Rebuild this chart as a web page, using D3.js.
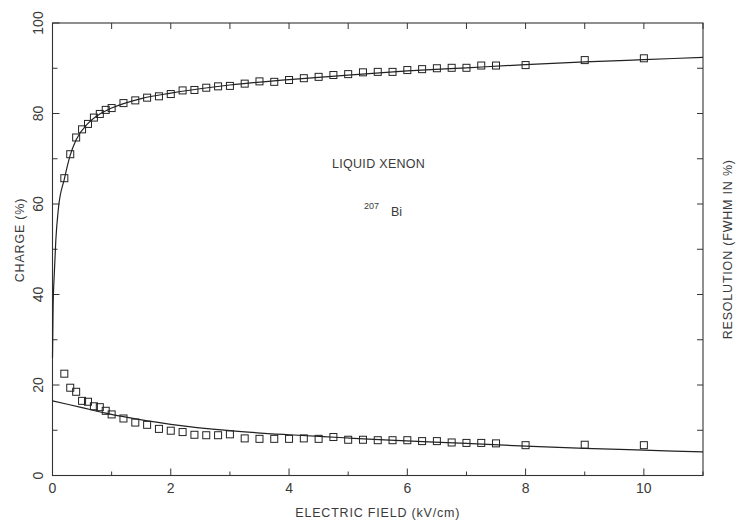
<!DOCTYPE html>
<html>
<head>
<meta charset="utf-8">
<script src="https://cdn.jsdelivr.net/npm/d3@7"></script>
<style>
  html, body { margin: 0; padding: 0; background: #fff; }
  text { font-family: 'Liberation Sans', 'DejaVu Sans', sans-serif; fill: #3a3a3a; }
</style>
</head>
<body>
<svg id="chart" width="737" height="521"></svg>
<script>
// ── data ──────────────────────────────────────────────────

// measured field values (kV/cm), shared by both series
const fieldKV = [0.2, 0.3, 0.4, 0.5, 0.6, 0.7, 0.8, 0.9, 1.0, 1.2, 1.4, 1.6, 1.8, 2.0,
  2.2, 2.4, 2.6, 2.8, 3.0, 3.25, 3.5, 3.75, 4.0, 4.25, 4.5, 4.75, 5.0, 5.25, 5.5,
  5.75, 6.0, 6.25, 6.5, 6.75, 7.0, 7.25, 7.5, 8, 9, 10];

// collected charge (%)
const chargePct = [65.7, 71.0, 74.7, 76.5, 77.7, 79.1, 79.9, 80.8, 81.2, 82.3, 82.9,
  83.5, 83.8, 84.3, 85.1, 85.2, 85.7, 86.0, 86.1, 86.6, 87.1, 87.0, 87.4, 87.8, 88.1,
  88.5, 88.7, 89.1, 89.2, 89.2, 89.6, 89.8, 90.0, 90.1, 90.1, 90.6, 90.6, 90.7, 91.8, 92.2];

// energy resolution (FWHM, %)
const resolutionPct = [22.5, 19.4, 18.5, 16.5, 16.3, 15.3, 15.1, 14.3, 13.5, 12.6, 11.7,
  11.2, 10.3, 9.9, 9.6, 9.0, 8.9, 8.9, 9.1, 8.2, 8.1, 8.1, 8.1, 8.2, 8.1, 8.5, 7.9,
  7.9, 7.8, 7.8, 7.8, 7.6, 7.6, 7.3, 7.2, 7.2, 7.1, 6.7, 6.8, 6.7];

// fitted curves
const chargeFitE = [0, 0.01, 0.03, 0.056, 0.1, 0.2, 0.3, 0.4, 0.6, 0.8, 1.0, 1.5, 2, 3, 4, 5, 6, 7, 8, 9, 10, 11];
const chargeFitV = [26, 37, 44.5, 52, 59, 65.5, 70.8, 74.2, 77.8, 79.9, 81.2, 83.3, 84.5, 86.3, 87.5, 88.5, 89.4, 90.1, 90.8, 91.4, 91.9, 92.4];

const resFitE = [0, 0.5, 0.9, 1.2, 2, 3, 4, 4.85, 5.7, 7, 8, 9, 10, 11];
const resFitV = [16.5, 15.0, 13.8, 13.0, 11.3, 9.9, 9.0, 8.4, 7.8, 7.1, 6.5, 6.0, 5.6, 5.2];

const xTicks = [0, 2, 4, 6, 8, 10];
const yTicks = [0, 20, 40, 60, 80, 100];

// ── layout ────────────────────────────────────────────────

const svg = d3.select('#chart');
const padL = 52.5, padR = 703, padT = 23, padB = 475.5;

const x = d3.scaleLinear().domain([0, 11]).range([padL, padR]);
const y = d3.scaleLinear().domain([0, 100]).range([padB, padT]);
const yRes = d3.scaleLinear().domain([0, 100]).range([padB, padT]);

// frame
svg.append('rect')
  .attr('x', padL).attr('y', padT)
  .attr('width', padR - padL).attr('height', padB - padT)
  .attr('fill', 'none').attr('stroke', '#333').attr('stroke-width', 1.1);

// ── ticks (all point inward) ──────────────────────────────

const xAll = d3.range(0, 12);
const yAll = d3.range(0, 101, 10);
const tickG = svg.append('g').attr('stroke', '#333').attr('stroke-width', 1);

tickG.append('g').selectAll('line').data(xAll).join('line')
  .attr('x1', d => x(d)).attr('x2', d => x(d))
  .attr('y1', padB).attr('y2', d => padB - (d % 2 === 0 ? 7 : 4));
tickG.append('g').selectAll('line').data(xAll.slice(1)).join('line')
  .attr('x1', d => x(d)).attr('x2', d => x(d))
  .attr('y1', padT).attr('y2', padT + 6);
tickG.append('g').selectAll('line').data(yAll).join('line')
  .attr('y1', d => y(d)).attr('y2', d => y(d))
  .attr('x1', padL).attr('x2', d => padL + (d % 20 === 0 ? 7 : 5));
tickG.append('g').selectAll('line').data(yAll.slice(1, -1)).join('line')
  .attr('y1', d => yRes(d)).attr('y2', d => yRes(d))
  .attr('x1', padR).attr('x2', padR - 6);

// tick labels
svg.append('g').selectAll('text').data(xTicks).join('text')
  .attr('x', d => x(d)).attr('y', 493)
  .attr('text-anchor', 'middle').attr('font-size', 14)
  .text(d => d);

svg.append('g').selectAll('text').data(yTicks).join('text')
  .attr('transform', d => `translate(43,${y(d)}) rotate(-90)`)
  .attr('text-anchor', 'middle').attr('font-size', 14)
  .text(d => d);

// axis titles
svg.append('text')
  .attr('x', (padL + padR) / 2).attr('y', 517)
  .attr('text-anchor', 'middle').attr('font-size', 12.5).attr('letter-spacing', 0.8)
  .text('ELECTRIC FIELD (kV/cm)');

svg.append('text')
  .attr('transform', 'translate(24,240) rotate(-90)')
  .attr('text-anchor', 'middle').attr('font-size', 12.5).attr('letter-spacing', 0.8)
  .text('CHARGE (%)');

svg.append('text')
  .attr('transform', `translate(732,${(padT + padB) / 2}) rotate(-90)`)
  .attr('text-anchor', 'middle').attr('font-size', 12.5).attr('letter-spacing', 0.8)
  .text('RESOLUTION (FWHM IN %)');

// annotations
svg.append('text')
  .attr('x', 332).attr('y', 168).attr('font-size', 12.5).attr('letter-spacing', 0.3)
  .text('LIQUID XENON');
const iso = svg.append('text').attr('x', 364).attr('y', 216);
iso.append('tspan').attr('font-size', 9).attr('dy', -7).text('207');
iso.append('tspan').attr('font-size', 12.5).attr('dx', 12).attr('dy', 7).text('Bi');

// ── fit curves ────────────────────────────────────────────

const fitLine = (xs, vs, ys) => d3.line()
  .x((d, i) => x(xs[i]))
  .y(d => ys(d))
  .curve(d3.curveMonotoneX)(vs);

svg.append('path').attr('d', fitLine(chargeFitE, chargeFitV, y))
  .attr('fill', 'none').attr('stroke', '#222').attr('stroke-width', 1.2);
svg.append('path').attr('d', fitLine(resFitE, resFitV, yRes))
  .attr('fill', 'none').attr('stroke', '#222').attr('stroke-width', 1.2);

// ── markers ───────────────────────────────────────────────

const sq = 7;
const markers = (vals, ys) => svg.append('g').selectAll('rect').data(vals).join('rect')
  .attr('x', (d, i) => x(fieldKV[i]) - sq / 2)
  .attr('y', d => ys(d) - sq / 2)
  .attr('width', sq).attr('height', sq)
  .attr('fill', 'none').attr('stroke', '#222').attr('stroke-width', 1);

markers(chargePct, y);
markers(resolutionPct, yRes);
</script>
</body>
</html>
